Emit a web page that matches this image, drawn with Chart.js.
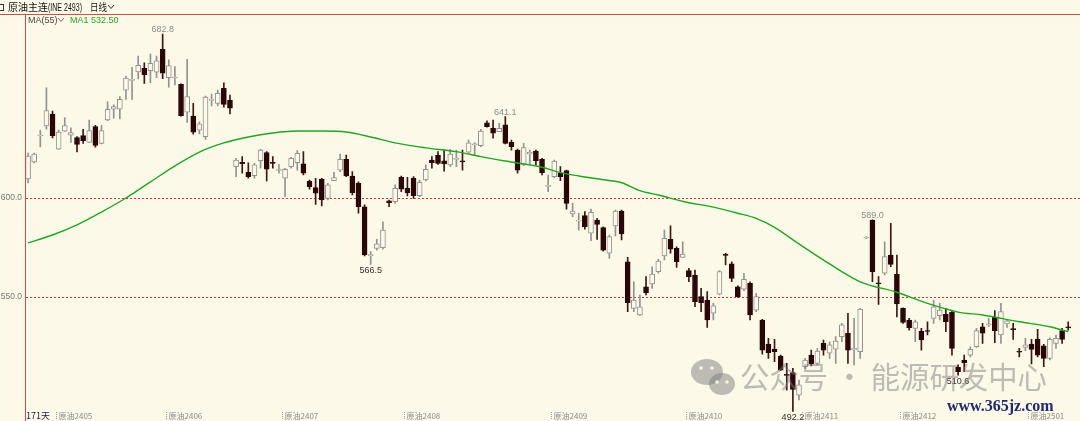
<!DOCTYPE html>
<html>
<head>
    <meta charset="utf-8">
    <title>原油主连 日线</title>
    <script src="https://cdn.jsdelivr.net/npm/chart.js"></script>
    <style>
        html, body { margin: 0; padding: 0; background: #fdf9e8; }
        #wrap { width: 1080px; height: 421px; }
    </style>
</head>
<body>
    <div id="wrap"><canvas id="kChart" width="1080" height="421"></canvas></div>

    <script>
        // daily bars (171 days)
        const open = [
            609.6, 618.2, 631.3, 636.4, 642.4, 624.7, 633.7, 631.7, 630.5, 631.5, 628.1, 636.0, 627.6, 639.4, 644.8, 644.8, 654.5, 659.4, 663.6, 665.5,
            664.3, 663.5, 675.1, 660.8, 660.6, 657.4, 643.3, 641.4, 634.3, 631.0, 649.3, 647.8, 655.4, 649.5,
            615.8, 618.0, 613.0, 611.3, 618.8, 622.9, 618.0, 613.9, 610.0, 615.8, 617.8, 617.2, 608.6, 605.2, 609.6, 599.8, 608.7, 614.1, 619.5, 611.1, 607.4, 595.6, 570.9, 574.6, 574.9, 598.6, 598.1,
            610.4, 604.9, 609.9, 601.2, 609.1, 619.2, 621.6, 618.8, 616.7, 619.5, 618.8, 623.1, 626.9, 626.4, 638.0, 635.2, 633.5, 636.9, 628.1, 624.2, 617.0, 622.2, 623.7, 619.5, 605.9, 610.8,
            612.5, 613.8, 591.9, 588.3, 591.1, 582.2, 588.9, 585.0, 572.1, 585.9, 593.4, 567.8, 544.3, 540.9, 555.2, 556.6, 562.8, 570.7, 579.1, 574.6, 570.0, 563.3, 561.1,
            550.2, 548.5, 541.8, 551.5, 571.5, 566.7, 555.2, 553.9, 556.9, 543.4, 538.4, 526.3, 523.7, 520.2, 510.8, 511.8, 500.5, 514.8, 520.7, 516.5, 526.6,
            521.6, 523.7, 530.0, 531.7, 523.3, 522.4, 579.8, 588.9, 557.1, 562.0, 571.2, 561.5, 544.3, 538.4, 534.2, 532.8, 533.0, 539.2, 540.6, 541.3, 542.3,
            514.5, 518.2, 520.7, 524.9, 535.0, 536.0, 539.7, 530.8, 536.4, 534.0, 522.5, 524.6, 526.3, 528.8, 525.3, 519.0, 526.6, 533.0, 534.7
        ];
        const high = [
            622.7, 622.7, 634.3, 655.6, 643.9, 634.3, 640.6, 635.4, 631.0, 634.7, 639.4, 636.7, 636.7, 648.6, 647.0, 651.2, 661.6, 666.0, 671.7, 668.3,
            672.6, 671.7, 682.8, 669.7, 666.3, 657.7, 670.0, 647.8, 638.5, 651.5, 652.5, 654.5, 658.2, 652.0,
            620.0, 620.9, 617.8, 617.5, 624.6, 623.4, 620.9, 617.0, 615.0, 620.5, 623.9, 623.4, 609.1, 609.9, 609.9, 607.4, 613.0, 622.2, 621.7, 613.3, 608.2, 596.5, 572.9, 579.1, 588.0, 599.0, 606.6,
            611.1, 610.4, 610.8, 609.1, 616.7, 620.9, 623.4, 624.2, 624.6, 624.2, 624.2, 629.3, 627.9, 634.7, 639.0, 639.4, 637.7, 641.1, 629.3, 624.7, 627.6, 624.2, 624.2, 620.0, 611.6, 619.2,
            615.8, 614.1, 597.3, 592.3, 593.1, 594.4, 589.7, 585.5, 581.3, 593.9, 593.9, 570.1, 557.7, 551.0, 560.3, 565.3, 569.0, 583.8, 585.9, 575.4, 577.9, 564.5, 563.6,
            554.4, 552.7, 546.8, 563.3, 572.1, 567.8, 555.6, 562.0, 557.7, 551.9, 538.7, 529.1, 528.6, 520.7, 516.5, 514.0, 508.1, 519.0, 523.2, 524.1, 528.3,
            527.4, 530.0, 536.7, 541.8, 539.2, 544.3, 580.5, 589.0, 560.3, 577.9, 587.2, 571.2, 544.6, 539.2, 538.4, 534.2, 537.5, 548.5, 546.8, 544.3, 542.9,
            515.7, 520.7, 524.9, 534.2, 536.7, 539.2, 543.1, 546.8, 538.7, 536.7, 524.1, 529.1, 528.6, 533.7, 526.1, 529.4, 530.8, 534.2, 537.5
        ];
        const low = [
            607.6, 617.7, 625.8, 634.8, 630.3, 624.5, 633.6, 628.0, 623.2, 627.6, 627.9, 625.6, 627.3, 639.0, 640.3, 639.9, 649.8, 649.8, 660.1, 657.9,
            658.2, 660.8, 660.3, 655.9, 657.1, 641.3, 638.2, 632.2, 632.3, 629.6, 646.5, 646.5, 645.8, 642.4,
            610.8, 612.5, 610.0, 610.0, 615.0, 608.6, 615.0, 612.5, 600.7, 615.0, 614.1, 611.6, 604.4, 596.8, 596.0, 599.0, 608.7, 613.3, 610.8, 601.5, 592.3, 570.7, 566.5, 573.7, 574.2, 595.6, 597.3,
            603.2, 601.0, 599.8, 600.7, 608.6, 615.0, 617.0, 613.6, 615.8, 615.8, 614.1, 622.6, 621.7, 625.9, 635.7, 630.2, 633.5, 627.3, 624.2, 612.5, 616.3, 616.7, 616.7, 611.6, 603.2, 610.4,
            608.7, 594.3, 590.6, 583.8, 584.2, 578.4, 579.1, 573.2, 569.5, 580.8, 578.8, 542.6, 542.6, 540.6, 551.0, 554.4, 562.0, 568.7, 572.1, 565.0, 570.0, 557.7, 545.1,
            542.6, 534.7, 538.4, 551.0, 566.2, 557.7, 549.8, 553.2, 538.4, 542.6, 521.2, 519.0, 517.3, 512.8, 503.0, 492.2, 498.0, 514.0, 515.2, 515.7, 520.7,
            519.0, 516.5, 527.4, 516.5, 515.7, 519.0, 579.5, 557.7, 546.3, 561.1, 565.3, 540.0, 536.7, 533.3, 527.4, 523.2, 530.8, 536.7, 538.4, 532.5, 520.7,
            510.6, 512.3, 519.8, 524.6, 526.6, 535.0, 526.9, 526.6, 534.7, 528.6, 519.8, 522.9, 516.2, 519.8, 514.8, 518.2, 524.1, 526.6, 533.3
        ];
        const close = [
            621.2, 622.2, 631.7, 644.1, 631.5, 633.3, 636.5, 633.0, 627.1, 628.9, 634.0, 626.6, 634.0, 644.8, 646.1, 649.8, 660.5, 659.8, 667.0, 662.3,
            668.0, 669.3, 663.0, 666.9, 661.0, 641.6, 651.2, 633.2, 637.4, 650.9, 649.7, 652.9, 647.3, 645.3,
            619.2, 617.3, 610.8, 616.7, 624.2, 614.5, 617.5, 614.3, 614.5, 620.0, 622.6, 612.5, 605.7, 602.4, 599.0, 606.6, 610.3, 619.5, 611.1, 602.7, 595.6, 571.2, 571.3, 576.8, 583.8, 597.6, 604.9,
            604.4, 602.7, 601.2, 607.9, 614.5, 617.8, 617.5, 617.2, 622.2, 619.9, 618.2, 627.9, 627.3, 633.8, 636.0, 632.7, 635.2, 627.6, 625.9, 614.1, 625.4, 623.1, 618.7, 612.8, 606.3, 618.7,
            610.8, 597.3, 593.4, 588.7, 585.5, 592.8, 586.7, 573.7, 580.5, 593.4, 581.8, 547.1, 548.5, 545.1, 552.2, 561.6, 568.2, 579.6, 574.1, 567.8, 571.7, 560.3, 547.6,
            547.1, 538.4, 545.5, 562.8, 571.0, 559.4, 550.2, 558.9, 540.9, 550.2, 523.2, 521.9, 522.4, 513.1, 510.4, 503.4, 505.6, 518.2, 516.2, 522.7, 523.2,
            525.8, 527.8, 535.9, 523.2, 524.1, 543.9, 580.2, 562.8, 556.7, 570.4, 566.5, 546.5, 537.2, 534.5, 537.5, 528.3, 532.6, 545.1, 543.4, 537.5, 524.1,
            512.3, 516.8, 523.6, 533.0, 531.7, 536.4, 533.0, 542.6, 538.0, 533.5, 522.1, 525.8, 523.6, 520.7, 519.0, 528.6, 529.1, 528.6, 534.4
        ];

        // MA(55) line, read at these day positions
        const maDay = [0, 4, 8, 12, 16, 20, 24, 28, 32, 36, 40, 44, 48, 52, 56, 60, 65, 70, 74, 78, 82, 84, 87, 90, 94, 97,
                       100, 103, 108, 111, 116, 119, 122, 126, 131, 136, 142, 147, 152, 156, 162, 167, 170];
        const maValue = [577.3, 581.3, 586.4, 592.9, 600.0, 608.1, 616.2, 623.2, 627.8, 630.8, 632.8, 633.8, 633.8, 633.3, 630.8, 627.8,
                         625.3, 623.4, 620.9, 618.7, 616.7, 615.5, 612.8, 611.1, 609.2, 607.7,
                         603.7, 601.5, 597.6, 596.0, 592.3, 589.7, 585.2, 576.8, 566.7, 557.7, 552.4, 546.8, 542.4, 540.9, 537.5, 535.0, 532.5];

        // month marks along the bottom
        const monthDay = [5, 23, 42, 62, 86, 108, 127, 143, 164];
        const monthName = ['原油2405', '原油2406', '原油2407', '原油2408', '原油2409', '原油2410', '原油2411', '原油2412', '原油2501'];

        const yTicks = [550, 600];
        const markHigh = [22, 78, 138];
        const markLow = [56, 125, 152];

        const bg = '#fdf9e8';
        const upLine = '#929292';
        const downFill = '#2a0606';
        const downWick = '#3c1717';
        const red = '#c9514c';

        // one empty slot on the right, as in the terminal view
        const days = open.map((_, i) => String(i + 1)).concat(['']);
        const isUp = open.map((o, i) => close[i] >= o);
        const maData = days.map(() => null);
        maDay.forEach((d, j) => { maData[d] = maValue[j]; });

        const decor = {
            id: 'decor',
            beforeDraw(chart) {
                const c = chart.ctx;
                c.save();
                c.fillStyle = bg;
                c.fillRect(0, 0, chart.width, chart.height);
                c.restore();
            },
            beforeDatasetsDraw(chart) {
                // dotted price levels, placed by the y scale
                const c = chart.ctx, ys = chart.scales.y;
                c.save();
                c.strokeStyle = '#d23a34';
                c.lineWidth = 1;
                c.setLineDash([2, 2]);
                yTicks.forEach(v => {
                    const py = Math.round(ys.getPixelForValue(v)) + 0.5;
                    c.beginPath();
                    c.moveTo(26, py); c.lineTo(chart.width, py);
                    c.stroke();
                });
                c.restore();
            },
            afterDraw(chart) {
                const c = chart.ctx;
                const xs = chart.scales.x, ys = chart.scales.y;
                const step = xs.getPixelForValue(1) - xs.getPixelForValue(0);
                c.save();

                // frame
                c.strokeStyle = red;
                c.lineWidth = 1;
                c.beginPath();
                c.moveTo(0, 14.5); c.lineTo(chart.width, 14.5);
                c.moveTo(25.5, 14.5); c.lineTo(25.5, chart.height);
                c.stroke();

                // header
                c.strokeStyle = '#333';
                c.strokeRect(-2.5, 4.5, 6, 6);
                c.fillStyle = '#111';
                c.textBaseline = 'alphabetic';
                c.font = '10px "Noto Sans CJK SC"';
                c.fillText('原油主连', 8, 11);
                c.fillText('日线', 90, 11, 17);
                c.font = '10px "Liberation Sans"';
                c.fillText('(INE 2493)', 48, 11, 34);
                c.beginPath();
                c.moveTo(108, 5); c.lineTo(111, 8.5); c.lineTo(114, 5);
                c.stroke();

                c.font = '9px "Liberation Sans"';
                c.fillStyle = '#444';
                c.fillText('MA(55)', 28, 23);
                c.strokeStyle = red;
                c.beginPath();
                c.moveTo(58, 18); c.lineTo(61, 21.5); c.lineTo(64, 18);
                c.stroke();
                c.fillStyle = '#25a825';
                c.fillText('MA1 ' + maValue[maValue.length - 1].toFixed(2), 70, 23);

                // high / low marks
                c.textAlign = 'center';
                c.font = '9px "Liberation Sans"';
                markHigh.forEach(i => {
                    c.fillStyle = '#8a8a8a';
                    c.fillText(high[i].toFixed(1), xs.getPixelForValue(i), ys.getPixelForValue(high[i]) - 2);
                });
                c.textBaseline = 'top';
                markLow.forEach(i => {
                    c.fillStyle = '#3a2a2a';
                    c.fillText(low[i].toFixed(1), xs.getPixelForValue(i), ys.getPixelForValue(low[i]) + 2);
                });

                // bottom labels
                c.textAlign = 'left';
                c.textBaseline = 'alphabetic';
                c.font = '9px "Noto Sans CJK SC"';
                c.fillStyle = '#1c1c4a';
                c.fillText('171天', 26, 419);
                c.font = '8px "Noto Sans CJK SC"';
                monthDay.forEach((d, j) => {
                    const px = Math.round(xs.getPixelForValue(d) - step / 2) + 0.5;
                    c.strokeStyle = '#9a9a9a';
                    c.setLineDash([1, 1]);
                    c.beginPath();
                    c.moveTo(px, 412); c.lineTo(px, 419);
                    c.stroke();
                    c.setLineDash([]);
                    c.fillStyle = '#8a8a8a';
                    c.fillText(monthName[j], px + 2, 419);
                });

                // watermark
                c.fillStyle = 'rgba(125,125,125,0.5)';
                c.beginPath();
                c.ellipse(707, 372, 16, 13, 0, 0, Math.PI * 2);
                c.fill();
                c.beginPath();
                c.ellipse(722, 384, 13, 11, 0, 0, Math.PI * 2);
                c.fill();
                c.fillStyle = 'rgba(253,249,232,0.9)';
                [[701, 368], [712, 368], [717, 382], [727, 382]].forEach(p => {
                    c.beginPath(); c.arc(p[0], p[1], 1.8, 0, Math.PI * 2); c.fill();
                });
                c.fillStyle = 'rgba(125,125,125,0.5)';
                c.font = '30px "Noto Sans CJK SC"';
                c.textBaseline = 'middle';
                c.fillText('公众号 · 能源研发中心', 740, 377, 307);
                c.fillStyle = '#1d2b70';
                c.font = 'bold 16px "Liberation Serif"';
                c.textBaseline = 'alphabetic';
                c.fillText('www.365jz.com', 947, 411);

                c.restore();
            }
        };

        new Chart(document.getElementById('kChart'), {
            type: 'bar',
            data: {
                labels: days,
                datasets: [
                    {
                        label: 'wick',
                        data: low.map((l, i) => [l, high[i]]),
                        backgroundColor: isUp.map(u => u ? upLine : downWick),
                        borderWidth: 0,
                        barThickness: 1,
                        grouped: false,
                        order: 3
                    },
                    {
                        label: 'body',
                        data: open.map((o, i) => [o, close[i]]),
                        backgroundColor: isUp.map(u => u ? bg : downFill),
                        borderColor: isUp.map(u => u ? upLine : downFill),
                        borderWidth: 1,
                        borderSkipped: false,
                        barThickness: 5,
                        minBarLength: 1,
                        grouped: false,
                        order: 2
                    },
                    {
                        type: 'line',
                        label: 'MA1',
                        data: maData,
                        borderColor: '#1fa61f',
                        borderWidth: 1.4,
                        pointRadius: 0,
                        spanGaps: true,
                        cubicInterpolationMode: 'monotone',
                        order: 1
                    }
                ]
            },
            options: {
                responsive: false,
                devicePixelRatio: 1,
                animation: false,
                layout: { padding: { top: 14, right: 2.6, bottom: 0, left: 0 } },
                plugins: { legend: { display: false }, tooltip: { enabled: false } },
                scales: {
                    x: { display: false, offset: true },
                    y: {
                        min: 487.4,
                        max: 692.9,
                        afterFit(scale) {
                            scale.width = 25;
                            scale.paddingTop = 0;
                            scale.paddingBottom = 0;
                        },
                        afterBuildTicks(axis) { axis.ticks = yTicks.map(v => ({ value: v })); },
                        ticks: {
                            color: '#777',
                            padding: 3,
                            font: { family: 'Liberation Sans', size: 8.5 },
                            callback: v => Number(v).toFixed(1)
                        },
                        grid: { display: false, drawTicks: false },
                        border: { display: false }
                    }
                }
            },
            plugins: [decor]
        });
    </script>
</body>
</html>
